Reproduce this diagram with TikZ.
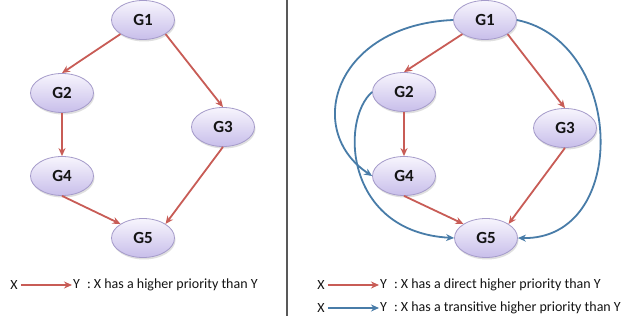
\documentclass[tikz,border=0pt]{standalone}
\usepackage{fontspec}
\setmainfont{Carlito}
\usetikzlibrary{arrows.meta,shapes.geometric,shadows}
\definecolor{redarr}{RGB}{200,92,86}
\definecolor{bluearr}{RGB}{72,124,168}
\definecolor{nodetop}{RGB}{247,245,253}
\definecolor{nodebot}{RGB}{200,190,234}
\definecolor{nodeedge}{RGB}{165,155,202}
\definecolor{txt}{RGB}{20,20,20}
\begin{document}
\begin{tikzpicture}[x=1pt,y=-1pt,
  gnode/.style={ellipse, minimum width=63pt, minimum height=39pt, inner sep=0pt,
    top color=nodetop, bottom color=nodebot, draw=nodeedge, line width=0.8pt,
    font=\fontsize{17}{17}\selectfont\bfseries, text=txt,
    drop shadow={opacity=0.25, shadow xshift=1pt, shadow yshift=-2pt}},
  direct/.style={draw=redarr, line width=1.8pt, -{Stealth[length=8pt,width=7pt]}},
  trans/.style={draw=bluearr, line width=1.8pt, -{Stealth[length=8pt,width=7pt]}},
  legtext/.style={font=\fontsize{14}{14}\selectfont, inner sep=1pt, text=txt},
  divider/.style={draw=black!65, line width=1.5pt},
]
\useasboundingbox (0,0) rectangle (625,323);
\fill[white] (0,0) rectangle (625,323);

% divider
\draw[divider] (287,0) -- (287,316);

% left panel
\node[gnode] (L1) at (143,20) {G1};
\node[gnode] (L2) at (62,93) {G2};
\node[gnode] (L3) at (223,127) {G3};
\node[gnode] (L4) at (62,176) {G4};
\node[gnode] (L5) at (143,238) {G5};
\draw[direct] (L1.south west) -- (L2.north);
\draw[direct] (L1.south east) -- (L3.north);
\draw[direct] (L2.south) -- (L4.north);
\draw[direct] (L4.south) -- (L5.north west);
\draw[direct] (L3.south) -- (L5.north east);

% right panel
\node[gnode] (R1) at (485,20) {G1};
\node[gnode] (R2) at (404,92) {G2};
\node[gnode] (R3) at (565,128) {G3};
\node[gnode] (R4) at (404,176) {G4};
\node[gnode] (R5) at (486,238) {G5};
\draw[direct] (R1.south west) -- (R2.north);
\draw[direct] (R1.south east) -- (R3.north);
\draw[direct] (R2.south) -- (R4.north);
\draw[direct] (R4.south) -- (R5.north west);
\draw[direct] (R3.south) -- (R5.north east);
\draw[trans] (R1.west) .. controls (335,25) and (303,130) .. (R4.west);
\draw[trans] (R2.west) .. controls (340,120) and (345,232) .. (R5.west);
\draw[trans] (R1.east) .. controls (625,42) and (630,240) .. (R5.east);

% legends
\node[legtext] (lx) at (14,285) {X};
\node[legtext, anchor=west] (ly) at (72,285) {Y\enspace: X has a higher priority than Y};
\draw[direct, shorten <=2pt] (lx.east) -- (ly.west);

\node[legtext] (rx1) at (321,285) {X};
\node[legtext, anchor=west] (ry1) at (379,285) {Y\enspace: X has a direct higher priority than Y};
\draw[direct, shorten <=2pt] (rx1.east) -- (ry1.west);

\node[legtext] (rx2) at (321,308) {X};
\node[legtext, anchor=west] (ry2) at (379,308) {Y\enspace: X has a transitive higher priority than Y};
\draw[trans, shorten <=2pt] (rx2.east) -- (ry2.west);
\end{tikzpicture}
\end{document}
